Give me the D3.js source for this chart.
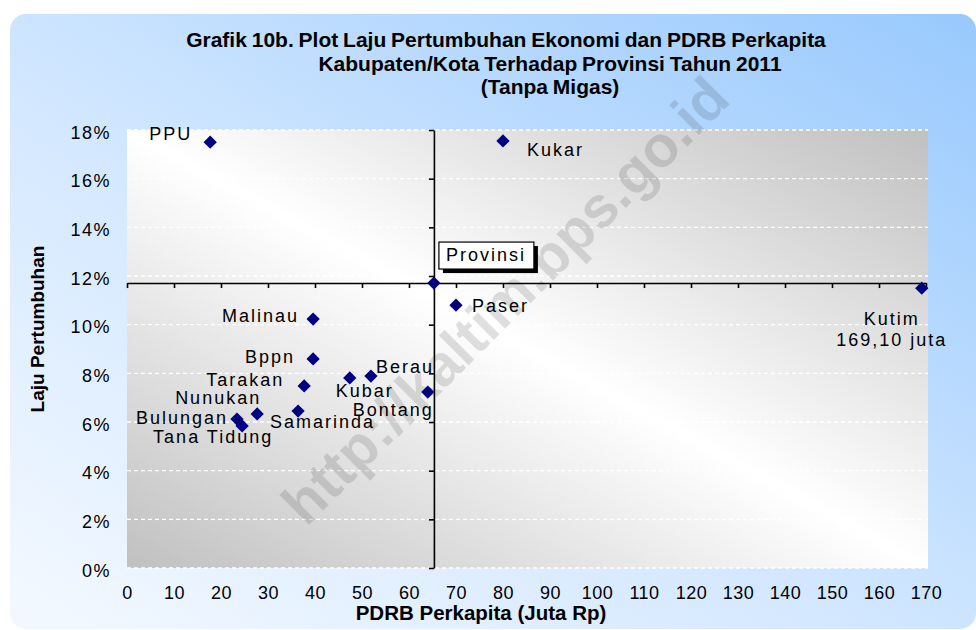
<!DOCTYPE html>
<html>
<head>
<meta charset="utf-8">
<script src="https://cdn.jsdelivr.net/npm/d3@7"></script>
<style>
  body { margin: 0; background: #fff; }
  svg { display: block; font-family: "Liberation Sans", Arial, sans-serif; }
</style>
</head>
<body>
<svg width="976" height="630"></svg>
<script>
// data
let names = ["PPU", "Kukar", "Provinsi", "Paser", "Kutim", "Malinau", "Bppn", "Tarakan",
             "Kubar", "Berau", "Bontang", "Samarinda", "Nunukan", "Bulungan", "Tana Tidung"];
let pdrb = [17.7, 80.0, 65.3, 70.0, 169.1, 39.6, 39.6, 37.7, 47.4, 51.9, 64.0, 36.4, 27.7, 23.4, 24.5];
let growth = [17.50, 17.55, 11.71, 10.80, 11.50, 10.23, 8.59, 7.48, 7.81, 7.89, 7.23, 6.45, 6.33, 6.12, 5.84];
let xTicks = [0, 10, 20, 30, 40, 50, 60, 70, 80, 90, 100, 110, 120, 130, 140, 150, 160, 170];
let yTicks = [0, 2, 4, 6, 8, 10, 12, 14, 16, 18];
let titleLines = ["Grafik 10b. Plot Laju Pertumbuhan Ekonomi dan PDRB Perkapita",
                  "Kabupaten/Kota Terhadap Provinsi Tahun 2011",
                  "(Tanpa Migas)"];

// label placement around each point (dx, dy, anchor)
let labelPos = {
    "PPU": [-18, -8, "end"],
    "Kukar": [24, 9, "start"],
    "Provinsi": [12, -28, "start"],
    "Paser": [16, 0, "start"],
    "Kutim": [-30, 31, "middle"],
    "Malinau": [-14, -3, "end"],
    "Bppn": [-18, -2, "end"],
    "Tarakan": [-20, -6, "end"],
    "Kubar": [-14, 13, "start"],
    "Berau": [5, -9, "start"],
    "Bontang": [6, 18, "end"],
    "Samarinda": [-28, 11, "start"],
    "Nunukan": [4, -16, "end"],
    "Bulungan": [-9, -1, "end"],
    "Tana Tidung": [-29, 11, "middle"]
};

let plotLeft = 127, plotRight = 926, plotTop = 130, plotBottom = 568;
let svg = d3.select("svg");
let defs = svg.append("defs");

let bgGrad = defs.append("linearGradient").attr("id", "bg")
    .attr("x1", 0).attr("y1", 1).attr("x2", 1).attr("y2", 0);
bgGrad.append("stop").attr("offset", 0).attr("stop-color", "#f4f9ff");
bgGrad.append("stop").attr("offset", 0.45).attr("stop-color", "#d2e7ff");
bgGrad.append("stop").attr("offset", 1).attr("stop-color", "#98c9fd");

let plotGrad = defs.append("linearGradient").attr("id", "plotbg")
    .attr("x1", 1).attr("y1", 0).attr("x2", 0).attr("y2", 1);
plotGrad.append("stop").attr("offset", 0).attr("stop-color", "#c0c0c0");
plotGrad.append("stop").attr("offset", 0.5).attr("stop-color", "#ffffff");
plotGrad.append("stop").attr("offset", 1).attr("stop-color", "#c0c0c0");

svg.append("rect").attr("x", 10).attr("y", 14).attr("width", 966).attr("height", 615)
    .attr("rx", 16).attr("fill", "url(#bg)");

let xScale = d3.scaleLinear().domain([0, 170]).range([plotLeft, plotRight]);
let yScale = d3.scaleLinear().domain([0, 18]).range([plotBottom, plotTop]);

svg.append("rect").attr("x", plotLeft).attr("y", plotTop)
    .attr("width", plotRight - plotLeft + 2).attr("height", plotBottom - plotTop)
    .attr("fill", "url(#plotbg)");

// gridlines
svg.append("g").selectAll("line").data(yTicks).join("line")
    .attr("x1", plotLeft).attr("x2", plotRight + 2)
    .attr("y1", d => yScale(d)).attr("y2", d => yScale(d))
    .attr("stroke", "#fff").attr("stroke-width", 1.3).attr("stroke-dasharray", "4,3");

// watermark
svg.append("text")
    .attr("transform", "translate(505,300) rotate(-45)")
    .attr("text-anchor", "middle").attr("dy", "0.35em")
    .attr("font-size", 58).attr("font-weight", "bold")
    .attr("fill", "#000").attr("fill-opacity", 0.12)
    .text("http://kaltim.bps.go.id");

let cx = xScale(pdrb[2]), cy = yScale(growth[2]);

// crossing axes
let xAxis = d3.axisBottom(xScale).tickValues(xTicks).tickSizeInner(5).tickSizeOuter(0).tickFormat("");
let gx = svg.append("g").attr("transform", "translate(0," + cy + ")").call(xAxis);
let yAxis = d3.axisLeft(yScale).tickValues(yTicks).tickSizeInner(5).tickSizeOuter(0).tickFormat("");
let gy = svg.append("g").attr("transform", "translate(" + cx + ",0)").call(yAxis);
[gx, gy].forEach(g => {
    g.selectAll("path, line").attr("stroke", "#000").attr("stroke-width", 1.6);
});

// tick labels at the low side
let xLab = svg.append("g").attr("transform", "translate(0," + plotBottom + ")")
    .call(d3.axisBottom(xScale).tickValues(xTicks).tickSize(0).tickPadding(18));
xLab.select(".domain").remove();
xLab.selectAll("text").attr("font-size", 18).attr("fill", "#000")
    .attr("font-family", "Liberation Sans, Arial, sans-serif").attr("letter-spacing", 0.5);

let yLab = svg.append("g").attr("transform", "translate(111,0)")
    .call(d3.axisLeft(yScale).tickValues(yTicks).tickSize(0).tickPadding(0)
        .tickFormat(d => d + "%"));
yLab.select(".domain").remove();
yLab.selectAll("text").attr("font-size", 18).attr("fill", "#000")
    .attr("font-family", "Liberation Sans, Arial, sans-serif").attr("letter-spacing", 1.5)
    .attr("dy", "0.45em");

// axis titles
svg.append("text").attr("x", 481).attr("y", 620).attr("text-anchor", "middle")
    .attr("font-size", 20.5).attr("font-weight", "bold").text("PDRB Perkapita (Juta Rp)");
svg.append("text").attr("transform", "translate(44,329) rotate(-90)")
    .attr("text-anchor", "middle").attr("font-size", 19).attr("font-weight", "bold")
    .text("Laju Pertumbuhan");

// title
svg.append("g").selectAll("text").data(titleLines).join("text")
    .attr("x", (d, i) => [506, 550, 550][i])
    .attr("y", (d, i) => 47 + i * 23.5)
    .attr("text-anchor", "middle").attr("font-size", 21).attr("font-weight", "bold")
    .attr("word-spacing", -1)
    .text(d => d);

// Provinsi box with shadow
let bx = cx + 5, by = cy - 41;
svg.append("rect").attr("x", bx + 4).attr("y", by + 4).attr("width", 95).attr("height", 27).attr("fill", "#000");
svg.append("rect").attr("x", bx).attr("y", by).attr("width", 95).attr("height", 27)
    .attr("fill", "#fff").attr("stroke", "#000").attr("stroke-width", 1.2);

// markers
let pts = names.map((n, i) => ({name: n, x: pdrb[i], y: growth[i]}));
svg.append("g").selectAll("path").data(pts).join("path")
    .attr("d", d3.symbol(d3.symbolSquare, 88))
    .attr("transform", d => "translate(" + xScale(d.x) + "," + yScale(d.y) + ") rotate(45)")
    .attr("fill", "#000080");

// point labels
let lab = svg.append("g").attr("font-size", 18).attr("letter-spacing", 2).attr("fill", "#000");
pts.forEach(d => {
    let p = labelPos[d.name];
    let t = lab.append("text")
        .attr("x", xScale(d.x) + p[0]).attr("y", yScale(d.y) + p[1])
        .attr("text-anchor", p[2]).attr("dy", "0.35em");
    if (d.name === "Kutim") {
        t.append("tspan").text("Kutim");
        t.append("tspan").attr("x", xScale(d.x) + p[0]).attr("dy", "1.15em")
            .text(d3.format(".2f")(d.x).replace(".", ",") + " juta");
    } else {
        t.text(d.name);
    }
});
</script>
</body>
</html>
